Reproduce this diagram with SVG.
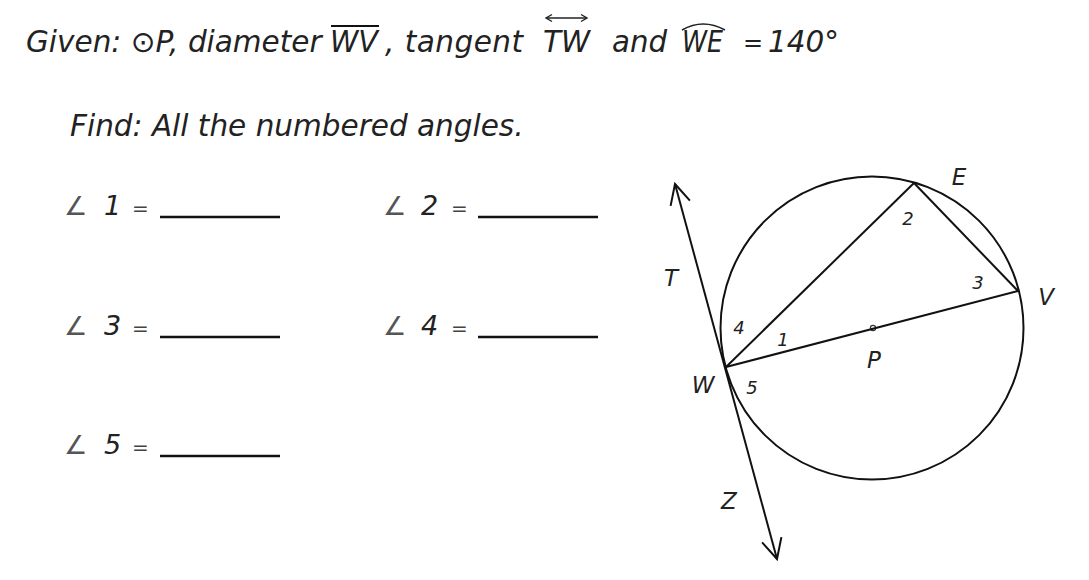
<svg xmlns="http://www.w3.org/2000/svg" width="1089" height="580" viewBox="0 0 1089 580">
<style>
  .t { font-family: "DejaVu Sans", "Liberation Sans", sans-serif; font-style: italic; fill: #222; }
  .title { font-size: 29.5px; }
  .q { font-size: 27px; }
  .ang { font-size: 26px; fill: #555; }
  .eq { font-size: 20px; fill: #444; }
  .lbl { font-size: 23px; text-anchor: middle; }
  .num { font-size: 18px; text-anchor: middle; }
  .ln { stroke: #111; stroke-width: 2; fill: none; }
  .ul { stroke: #111; stroke-width: 2.4; }
</style>
<defs>
  <marker id="open" markerUnits="userSpaceOnUse" viewBox="-22 -11 24 22" markerWidth="24" markerHeight="22" refX="0" refY="0" orient="auto-start-reverse">
    <path d="M -20 -10 L 0 0 L -20 10" fill="none" stroke="#111" stroke-width="2"/>
  </marker>
  <marker id="small" markerUnits="userSpaceOnUse" viewBox="-8 -5 9 10" markerWidth="9" markerHeight="10" refX="0" refY="0" orient="auto-start-reverse">
    <path d="M -6 -3.5 L 0 0 L -6 3.5" fill="none" stroke="#222" stroke-width="1.4"/>
  </marker>
</defs>
<rect width="1089" height="580" fill="#fff"/>

<g id="title">
  <text class="t title" x="26" y="52">Given: ⊙P, diameter</text>
  <text class="t title" x="330" y="52" textLength="48" lengthAdjust="spacingAndGlyphs">WV</text>
  <line class="ln" x1="331" y1="26" x2="379" y2="26" stroke-width="1.8"/>
  <text class="t title" x="385" y="52" textLength="138" lengthAdjust="spacing">, tangent</text>
  <text class="t title" x="543" y="52" textLength="47" lengthAdjust="spacingAndGlyphs">TW</text>
  <line x1="546" y1="18" x2="587" y2="18" stroke="#222" stroke-width="1.4" marker-start="url(#small)" marker-end="url(#small)"/>
  <text class="t title" x="612" y="52" textLength="55" lengthAdjust="spacingAndGlyphs">and</text>
  <text class="t title" x="682" y="52" textLength="41" lengthAdjust="spacingAndGlyphs">WE</text>
  <path d="M 682 30 Q 703 18 725 30" fill="none" stroke="#222" stroke-width="1.6"/>
  <text class="t" x="743" y="51" style="font-size:24px">=</text>
  <text class="t title" x="768" y="52">140°</text>
</g>

<g id="find">
  <text class="t title" x="70" y="136">Find: All the numbered angles.</text>
</g>

<g id="q1">
  <text class="t ang" x="64" y="215">∠</text>
  <text class="t q" x="104" y="215">1</text>
  <text class="t eq" x="132" y="215">=</text>
  <line class="ul" x1="160" y1="217" x2="280" y2="217"/>
</g>
<g id="q2">
  <text class="t ang" x="383" y="215">∠</text>
  <text class="t q" x="421" y="215">2</text>
  <text class="t eq" x="451" y="215">=</text>
  <line class="ul" x1="478" y1="217" x2="598" y2="217"/>
</g>
<g id="q3">
  <text class="t ang" x="64" y="335">∠</text>
  <text class="t q" x="104" y="335">3</text>
  <text class="t eq" x="132" y="335">=</text>
  <line class="ul" x1="160" y1="337" x2="280" y2="337"/>
</g>
<g id="q4">
  <text class="t ang" x="383" y="335">∠</text>
  <text class="t q" x="421" y="335">4</text>
  <text class="t eq" x="451" y="335">=</text>
  <line class="ul" x1="478" y1="337" x2="598" y2="337"/>
</g>
<g id="q5">
  <text class="t ang" x="64" y="454">∠</text>
  <text class="t q" x="104" y="454">5</text>
  <text class="t eq" x="132" y="454">=</text>
  <line class="ul" x1="160" y1="456" x2="280" y2="456"/>
</g>

<g id="circle-P">
  <circle class="ln" cx="872" cy="328" r="151.5"/>
  <circle cx="873" cy="328" r="2.6" fill="none" stroke="#333" stroke-width="1.2"/>
</g>

<g id="connectors">
  <line class="ln" x1="726" y1="367" x2="1018" y2="291"/>
  <line class="ln" x1="726" y1="367" x2="914" y2="183"/>
  <line class="ln" x1="914" y1="183" x2="1018" y2="291"/>
  <line class="ln" x1="675" y1="184" x2="777" y2="559" marker-start="url(#open)" marker-end="url(#open)"/>
</g>

<g id="labels">
  <text class="t lbl" x="671" y="286">T</text>
  <text class="t lbl" x="959" y="185">E</text>
  <text class="t lbl" x="1046" y="305">V</text>
  <text class="t lbl" x="874" y="368">P</text>
  <text class="t lbl" x="703" y="393">W</text>
  <text class="t lbl" x="729" y="509">Z</text>
  <text class="t num" x="908" y="225">2</text>
  <text class="t num" x="978" y="289">3</text>
  <text class="t num" x="739" y="334">4</text>
  <text class="t num" x="783" y="346">1</text>
  <text class="t num" x="752" y="394">5</text>
</g>
</svg>
